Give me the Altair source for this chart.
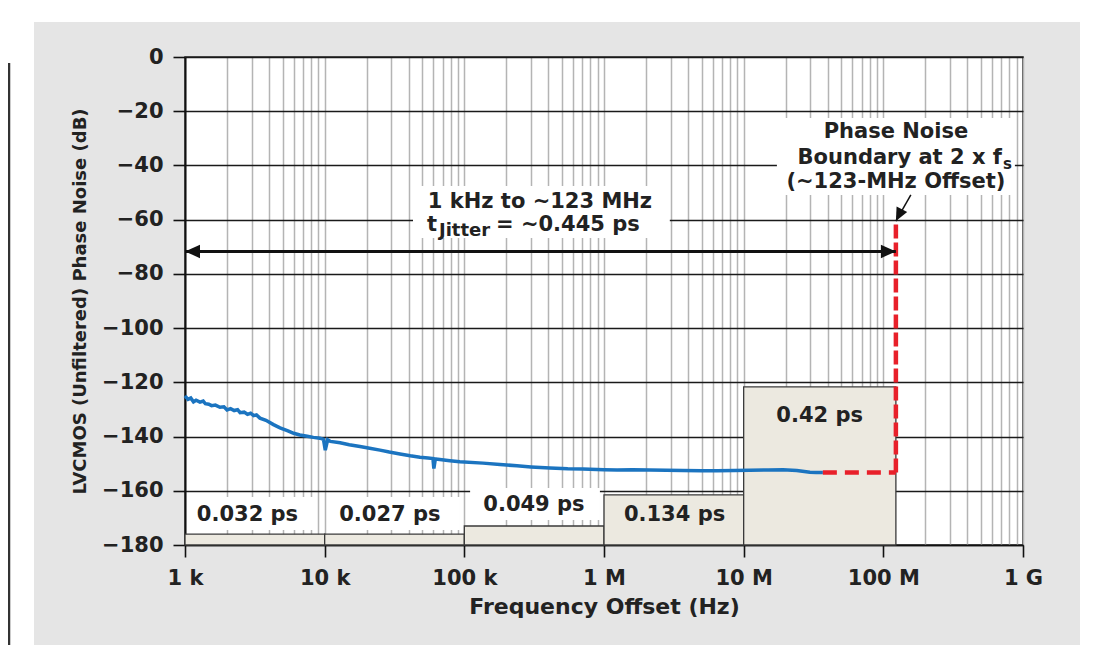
import json
import altair as alt
import pandas as pd

# ---------------- data ----------------
curve_freq = [1000, 1050, 1100, 1150, 1200, 1280, 1350, 1400, 1480, 1550, 1650, 1780, 1900,
              2000, 2120, 2250, 2380, 2480, 2650, 2800, 2950, 3100, 3250, 3440, 3800, 4300,
              4790, 5400, 6000, 6650, 7500, 8300, 9250, 9800,
              10100, 10500, 11000, 12900, 15000, 17900, 21000, 24900, 29000, 34600,
              41000, 48100, 55000, 59600, 60500, 62000, 66800, 78900, 92900, 136000,
              180000, 238000, 300000, 410000, 550000, 706000, 1.0e6, 1.24e6, 1.6e6,
              2.13e6, 2.8e6, 3.67e6, 5.0e6, 6.43e6, 8.5e6, 11.1e6, 15.0e6, 19.1e6,
              24.0e6, 29.8e6, 33.0e6, 36.9e6]
curve_db = [-125.0, -126.3, -125.8, -127.2, -126.6, -127.3, -126.9, -127.9, -128.1, -128.6,
            -128.4, -129.2, -129.0, -130.2, -129.7, -130.4, -130.1, -131.2, -131.0, -131.8,
            -131.4, -132.3, -132.0, -133.2, -134.0, -135.6,
            -136.8, -137.8, -138.8, -139.4, -139.9, -140.3, -140.6, -141.0,
            -145.0, -141.2, -141.8, -142.3, -143.0, -143.7,
            -144.3, -145.0, -145.7, -146.4, -147.1, -147.6, -147.9, -148.1, -151.8, -148.3,
            -148.5, -148.9, -149.3, -149.8, -150.3, -150.8, -151.2, -151.6, -151.9, -152.0,
            -152.2, -152.3, -152.2, -152.3, -152.4, -152.5, -152.6, -152.6, -152.5, -152.4,
            -152.3, -152.2, -152.5, -153.2, -153.3, -153.3]

box_lo = [1e3, 1e4, 1e5, 1e6, 1e7]
box_hi = [1e4, 1e5, 1e6, 1e7, 1.23e8]
box_top = [-176, -176, -173, -161.5, -121.7]
box_labels = ["0.032 ps", "0.027 ps", "0.049 ps", "0.134 ps", "0.42 ps"]
box_label_f = [2.8e3, 2.93e4, 3.15e5, 3.2e6, 3.5e7]
box_label_db = [-169, -169, -165.3, -169, -132.4]

# white areas behind annotation text (data space)
bg_f1 = [1.09e3, 1.04e4, 1.1e5, 4.29e4, 1.73e7]
bg_f2 = [8.5e3, 9.3e4, 9.35e5, 2.96e6, 8.75e8]
bg_db1 = [-174.5, -174.5, -170.8, -66.8, -50.9]
bg_db2 = [-162.3, -162.3, -159.0, -47.6, -22.5]

y_floor = -180
boundary_f = 1.23e8
plateau_f = 3.69e7
plateau_db = -153.3
boundary_top_db = -61
span_start_f = 1e3
span_db = -71.7

jitter_text_f = 3.48e5
jitter_line1_db = -53.5
jitter_line2_db = -62.0

pn_text_f = 1.23e8
pn_line_db = [-27.7, -37.3, -46.1]

pointer_tail = (1.574e8, -50.9)
pointer_tip = (1.23e8, -60.5)

x_major = [1e3, 1e4, 1e5, 1e6, 1e7, 1e8, 1e9]
x_major_labels = ["1 k", "10 k", "100 k", "1 M", "10 M", "100 M", "1 G"]
x_grid = [m * d for d in [1e3, 1e4, 1e5, 1e6, 1e7, 1e8] for m in range(1, 10)] + [1e9]
y_ticks = list(range(-180, 1, 20))

# ---------------- styles ----------------
FONT = "DejaVu Sans"
TXT = "#222222"
RED = "#e8202a"
BLUE = "#1b74c0"

maj = json.dumps(x_major)
lab = json.dumps(x_major_labels)
is_major = f"indexof({maj}, datum.value) >= 0"

xs = alt.Scale(type="log", domain=[1e3, 1e9], nice=False)
ys = alt.Scale(domain=[-180, 0], nice=False, zero=False)

xaxis = alt.Axis(
    values=x_grid,
    labelExpr=f"{is_major} ? {lab}[indexof({maj}, datum.value)] : ''",
    grid=True, gridColor="#b4b4b4", gridWidth=1.5,
    tickColor="#111111", tickWidth=1.6, tickSize=12,
    tickOpacity={"condition": {"test": is_major, "value": 1}, "value": 0},
    domainColor="#111111", domainWidth=1.6,
    labelFont=FONT, labelFontWeight="bold", labelFontSize=21, labelColor=TXT,
    labelPadding=10, labelOverlap=False, labelFlush=False,
    title="Frequency Offset (Hz)", titleFont=FONT, titleFontWeight="bold",
    titleFontSize=22, titleColor=TXT, titleY=61, titleBaseline="middle",
)
yaxis = alt.Axis(
    values=y_ticks,
    grid=True, gridColor="#1a1a1a", gridWidth=1.3,
    tickColor="#111111", tickWidth=1.6, tickSize=12,
    domainColor="#111111", domainWidth=2,
    labelFont=FONT, labelFontWeight="bold", labelFontSize=21, labelColor=TXT,
    labelPadding=10,
    title="LVCMOS (Unfiltered) Phase Noise (dB)", titleFont=FONT, titleFontWeight="bold",
    titleFontSize=18, titleColor=TXT, titleX=-105, titleY=244, titleAngle=270,
    titleAlign="center", titleBaseline="middle",
)

X = alt.X("f:Q", scale=xs, axis=xaxis)
Y = alt.Y("db:Q", scale=ys, axis=yaxis)

# ---------------- frames ----------------
curve_df = pd.DataFrame({"f": curve_freq, "db": curve_db})
box_df = pd.DataFrame({"f": box_lo, "f2": box_hi, "db": [y_floor] * 5, "db2": box_top})
box_lab_df = pd.DataFrame({"f": box_label_f, "db": box_label_db, "label": box_labels})
bg_df = pd.DataFrame({"f": bg_f1, "f2": bg_f2, "db": bg_db1, "db2": bg_db2})
plateau_df = pd.DataFrame({"f": [plateau_f], "f2": [boundary_f], "db": [plateau_db]})
bound_df = pd.DataFrame({"f": [boundary_f], "db": [plateau_db], "db2": [boundary_top_db]})
span_df = pd.DataFrame({"f": [span_start_f], "f2": [boundary_f], "db": [span_db]})
head_l_df = pd.DataFrame({"f": [span_start_f], "db": [span_db]})
head_r_df = pd.DataFrame({"f": [boundary_f], "db": [span_db]})
pointer_df = pd.DataFrame({"f": [pointer_tail[0]], "f2": [pointer_tip[0]],
                           "db": [pointer_tail[1]], "db2": [pointer_tip[1]]})
pointer_head_df = pd.DataFrame({"f": [pointer_tip[0]], "db": [pointer_tip[1]]})
dummy = pd.DataFrame({"a": [0]})

layers = []

# white page margin around the gray panel + left black rule (decoration)
for (x1, x2, y1, y2) in [(-177, -151, -49, 600), (-177, 905, -49, -35), (895, 905, -49, 600)]:
    layers.append(alt.Chart(dummy).mark_rect(color="white").encode(
        x=alt.value(x1), x2=alt.value(x2), y=alt.value(y1), y2=alt.value(y2)))
layers.append(alt.Chart(dummy).mark_rule(color="#333333", strokeWidth=2.5).encode(
    x=alt.value(-176), y=alt.value(6), y2=alt.value(600)))

# white text backgrounds
layers.append(alt.Chart(bg_df).mark_rect(color="white").encode(
    x=X, x2="f2:Q", y=Y, y2="db2:Q"))

# jitter boxes
layers.append(alt.Chart(box_df).mark_rect(fill="#ece9e0", stroke="#3a3a3a", strokeWidth=1.3).encode(
    x=X, x2="f2:Q", y=Y, y2="db2:Q"))

# phase noise curve
layers.append(alt.Chart(curve_df).mark_line(color=BLUE, strokeWidth=3.5).encode(x=X, y=Y))

# red dashed boundary
layers.append(alt.Chart(plateau_df).mark_rule(color=RED, strokeWidth=4.5, strokeDash=[14, 8]).encode(
    x=X, x2="f2:Q", y=Y))
layers.append(alt.Chart(bound_df).mark_rule(color=RED, strokeWidth=4.5, strokeDash=[14, 4]).encode(
    x=X, y=Y, y2="db2:Q"))

# double arrow
layers.append(alt.Chart(span_df).mark_rule(color="#111111", strokeWidth=3).encode(
    x=X, x2="f2:Q", y=Y))
layers.append(alt.Chart(head_l_df).mark_point(shape="M0,0L1,-0.45L1,0.45Z", filled=True,
                                              color="#111111", opacity=1, size=900).encode(x=X, y=Y))
layers.append(alt.Chart(head_r_df).mark_point(shape="M0,0L-1,-0.45L-1,0.45Z", filled=True,
                                              color="#111111", opacity=1, size=900).encode(x=X, y=Y))

# pointer arrow
layers.append(alt.Chart(pointer_df).mark_rule(color="#111111", strokeWidth=1.5).encode(
    x=X, x2="f2:Q", y=Y, y2="db2:Q"))
layers.append(alt.Chart(pointer_head_df).mark_point(shape="M0,0L1,-0.45L1,0.45Z", filled=True,
                                                    color="#111111", opacity=1, size=700,
                                                    angle=297).encode(x=X, y=Y))


def text_layer(df, **kw):
    base = dict(font=FONT, fontWeight="bold", color=TXT, baseline="middle")
    base.update(kw)
    return alt.Chart(df).mark_text(**base).encode(x=X, y=Y, text="label:N")


layers.append(text_layer(box_lab_df, fontSize=21, align="center"))

layers.append(text_layer(pd.DataFrame({"f": [jitter_text_f], "db": [jitter_line1_db],
                                       "label": ["1 kHz to ~123 MHz"]}),
                         fontSize=21, align="center"))
layers.append(text_layer(pd.DataFrame({"f": [jitter_text_f], "db": [jitter_line2_db], "label": ["t"]}),
                         fontSize=21, align="left", dx=-113))
layers.append(text_layer(pd.DataFrame({"f": [jitter_text_f], "db": [jitter_line2_db], "label": ["Jitter"]}),
                         fontSize=18, align="left", dx=-101, dy=6))
layers.append(text_layer(pd.DataFrame({"f": [jitter_text_f], "db": [jitter_line2_db], "label": ["= ~0.445 ps"]}),
                         fontSize=21, align="left", dx=-44))

layers.append(text_layer(pd.DataFrame({"f": [pn_text_f], "db": [pn_line_db[0]], "label": ["Phase Noise"]}),
                         fontSize=21, align="center"))
layers.append(text_layer(pd.DataFrame({"f": [pn_text_f], "db": [pn_line_db[1]], "label": ["Boundary at 2 x f"]}),
                         fontSize=21, align="right", dx=106))
layers.append(text_layer(pd.DataFrame({"f": [pn_text_f], "db": [pn_line_db[1]], "label": ["s"]}),
                         fontSize=15, align="left", dx=107, dy=6))
layers.append(text_layer(pd.DataFrame({"f": [pn_text_f], "db": [pn_line_db[2]], "label": ["(~123-MHz Offset)"]}),
                         fontSize=21, align="center"))

chart = alt.layer(*layers).properties(
    width=838, height=488,
    padding={"left": 177, "top": 49, "right": 62, "bottom": 100},
    autosize=alt.AutoSizeParams(type="none"),
    background="#e5e5e5",
).configure_view(stroke="#222222", strokeWidth=1.5, fill="white")

chart.save("out.html", embed_options={"renderer": "svg", "actions": False})
